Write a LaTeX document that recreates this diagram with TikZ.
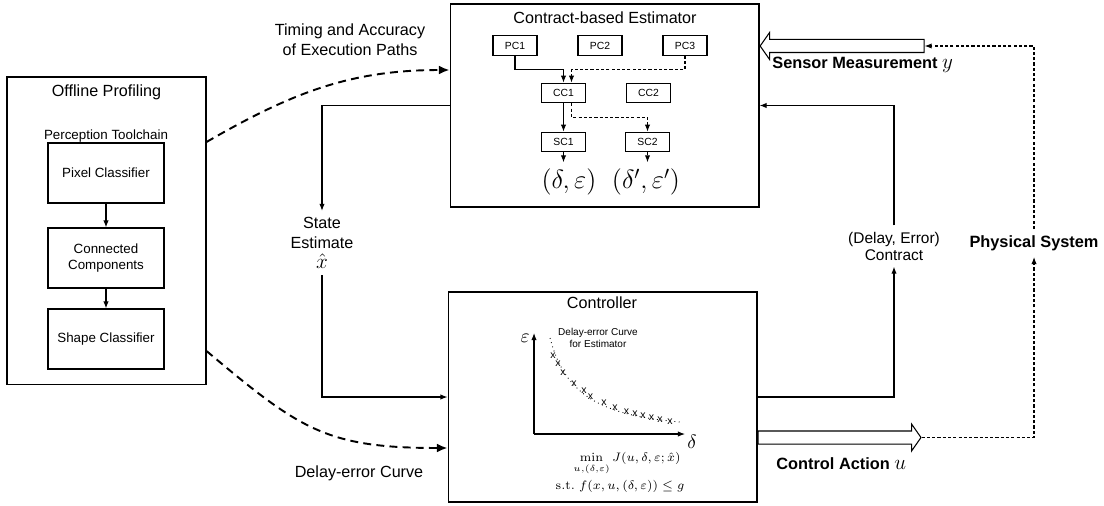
\documentclass[tikz,border=0pt]{standalone}
\usepackage{fix-cm}
\usepackage[no-math]{fontspec}
\setmainfont{Liberation Sans}
\usetikzlibrary{arrows.meta,shapes.arrows}

\begin{document}
\begin{tikzpicture}[x=0.02cm,y=-0.02cm,line width=0.6pt,
>={Latex[length=4pt,width=3pt]},
stagebox/.style={draw,inner sep=0pt,align=center,font=\fontsize{7.6}{9.5}\selectfont,minimum width=2.32cm,minimum height=1.2cm},
smallbox/.style={draw,inner sep=0pt,font=\fontsize{5.9}{7}\selectfont,minimum width=0.88cm,minimum height=0.39cm},
title/.style={font=\fontsize{9.2}{11}\selectfont},
lbl/.style={font=\fontsize{9.2}{11.4}\selectfont,align=center},
boldlbl/.style={font=\fontsize{9.3}{11}\selectfont\bfseries},
bigdash/.style={line width=1.1pt,dash pattern=on 4.5pt off 3pt,-{Latex[length=6pt,width=5pt]}},
smalldash/.style={dash pattern=on 1.8pt off 1.2pt},
fatarrow/.style={draw,fill=white,single arrow,single arrow head extend=0.14cm,single arrow tip angle=110,minimum width=0.52cm,inner xsep=0pt,inner ysep=0.12cm},
xmark/.style={inner sep=0pt,font=\fontsize{6}{6}\selectfont}]

\useasboundingbox (0,0) rectangle (1104,506);

% 1 offline profiling
\node[draw,minimum width=3.98cm,minimum height=6.16cm] (Offline) at (106.5,231) {};
\node[title] (OfflineTitle) at (106.5,92) {Offline Profiling};
\node[font=\fontsize{7.6}{9}\selectfont] (Toolchain) at (106,136) {Perception Toolchain};

\node[stagebox] (PixelClassifier) at (106,173) {Pixel Classifier};
\node[stagebox] (ConnComp) at (106,258) {Connected\\Components};
\node[stagebox] (ShapeClassifier) at (106,339) {Shape Classifier};

\draw[->] (PixelClassifier) -- (ConnComp);
\draw[->] (ConnComp) -- (ShapeClassifier);


% 2 estimator
\node[draw,minimum width=6.18cm,minimum height=4.06cm] (Estimator) at (604.5,105.5) {};
\node[title] (EstimatorTitle) at (605,18) {Contract-based Estimator};

\node[smallbox] (PC1) at (515,45.5) {PC1};
\node[smallbox] (PC2) at (600,45.5) {PC2};
\node[smallbox] (PC3) at (685,45.5) {PC3};
\node[smallbox] (CC1) at (563.5,93) {CC1};
\node[smallbox] (CC2) at (648.5,93) {CC2};
\node[smallbox] (SC1) at (563.5,142) {SC1};
\node[smallbox] (SC2) at (647.5,142) {SC2};

\node[font=\fontsize{15}{18}\selectfont] (OutA) at (569,182) {$(\delta,\varepsilon)$};
\node[font=\fontsize{15}{18}\selectfont] (OutB) at (646,182) {$(\delta',\varepsilon')$};

\draw[->] (PC1.south) -- ++(0,14) -| (CC1.north);
\draw[->,smalldash] (PC3.south) -- ++(0,14) -| ([xshift=0.16cm]CC1.north);
\draw[->] (CC1) -- (SC1);
\draw[->,smalldash] ([xshift=0.16cm]CC1.south) -- ++(0,14) -| (SC2.north);
\draw[->] (SC1.south) -- (SC1.south |- OutA.north);
\draw[->,smalldash] (SC2.south) -- (SC2.south |- OutB.north);


% 3 controller
\node[draw,minimum width=6.18cm,minimum height=4.2cm] (Controller) at (602.5,397) {};
\node[title] (ControllerTitle) at (602,303) {Controller};

\coordinate (Origin) at (534,434);
\draw[->] (Origin) -- (534,333);
\draw[->] (Origin) -- (685,434);
\node[font=\fontsize{11}{12}\selectfont] (EpsLabel) at (525,338) {$\varepsilon$};
\node[font=\fontsize{11}{12}\selectfont] (DeltaLabel) at (692,442) {$\delta$};
\node[font=\fontsize{5.7}{6.8}\selectfont,align=center] (CurveCaption) at (598,337.5) {Delay-error Curve\\for Estimator};

\draw[line width=0.5pt,dotted] (550,338) .. controls (565,395) and (600,415) .. (680,422);
\foreach \px/\py [count=\i] in {553/356,558/364,563/372.5,574/384,584/391,590.5/396.5,604/403,615/408,626.5/411.5,635/413.5,643/415.5,651.5/417.5,660/419.5,670/421.5}
  \node[xmark] (Mark\i) at (\px,\py) {x};

\node[font=\fontsize{7}{8}\selectfont,inner sep=1pt] (Objective) at (627,464) {$\min\limits_{u,(\delta,\varepsilon)} J(u,\delta,\varepsilon;\hat{x})$};
\node[font=\fontsize{7}{8}\selectfont,inner sep=1pt] (Constraint) at (620,486) {$\mathrm{s.t.}\; f(x,u,(\delta,\varepsilon))\le g$};


% 4 labels
\node[lbl] (TimingLabel) at (350,40) {Timing and Accuracy\\of Execution Paths};
\node[lbl] (DelayLabel) at (359,473) {Delay-error Curve};
\node[lbl] (StateEst) at (322,243) {State\\Estimate\\{\fontsize{12}{12}\selectfont$\hat{x}$}};
\node[font=\fontsize{8.8}{9.7}\selectfont,align=center] (Contract) at (894,246) {(Delay, Error)\\Contract};
\node[boldlbl] (Physical) at (1034,243) {Physical System};
\node[boldlbl,anchor=west] (SensorLabel) at (766,65) {Sensor Measurement\ {\fontsize{12}{12}\selectfont$y$}};
\node[boldlbl,anchor=west] (ActionLabel) at (770,464) {Control Action {\fontsize{12}{12}\selectfont$u$}};


% 5 signals
\node[fatarrow,shape border rotate=180,anchor=tip,minimum height=3.28cm] (SensorArrow) at (Estimator.east |- 0,46) {};
\node[fatarrow,anchor=tail,minimum height=3.26cm] (ActionArrow) at (Controller.east |- 0,437.5) {};

\draw[->,smalldash] (ActionArrow.tip) -| (Physical.south);
\draw[->,smalldash] (Physical.north) |- (SensorArrow.tail);

\draw[->] (Controller.east) -| (Contract.south);
\draw[->] (Contract.north) |- (Estimator.east);

\draw[->] (Estimator.west) -| (StateEst.north);
\draw[->] (StateEst.south) |- (Controller.west);

\draw[bigdash] (Offline.east |- 0,142) to[out=30,in=180] (Estimator.west |- 0,70);
\draw[bigdash] (Offline.east |- 0,351) to[out=-40,in=180,looseness=1.2] (Controller.west |- 0,448);

\end{tikzpicture}
\end{document}
